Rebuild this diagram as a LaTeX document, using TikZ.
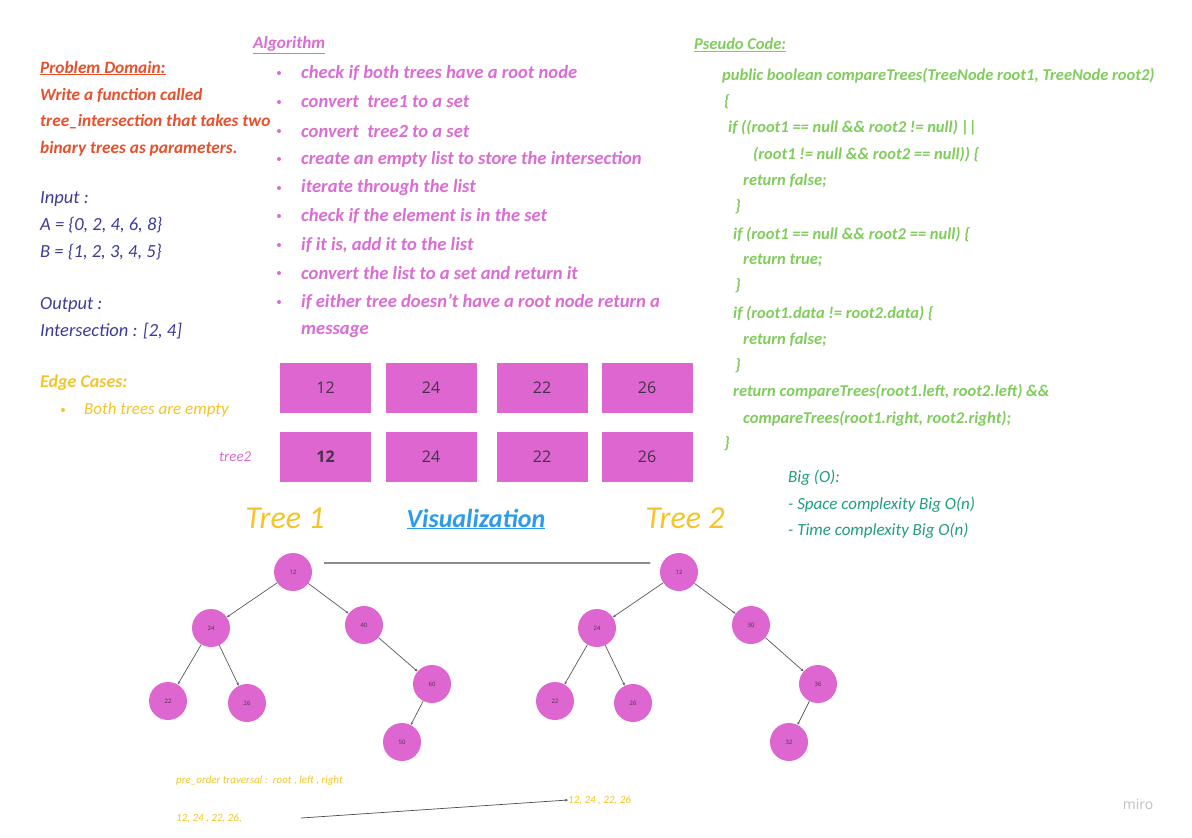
\documentclass[tikz,border=0pt]{standalone}
\usepackage{fontspec}
\setmainfont{Carlito}
\newfontfamily\boxfont{Open Sans}
\usetikzlibrary{arrows.meta}
\definecolor{cred}{RGB}{233,79,43}
\definecolor{cnavy}{RGB}{60,60,155}
\definecolor{cyel}{RGB}{245,196,40}
\definecolor{cmag}{RGB}{218,108,212}
\definecolor{cgreen}{RGB}{128,204,92}
\definecolor{cblue}{RGB}{45,155,235}
\definecolor{cteal}{RGB}{30,158,130}
\definecolor{cfill}{RGB}{221,102,208}
\definecolor{cnum}{RGB}{70,50,70}
\begin{document}
\begin{tikzpicture}[x=1pt,y=-1pt,
  hw/.style={font=\itshape\fontsize{17}{20}\selectfont, anchor=west, inner sep=0pt},
  hwn/.style={font=\itshape\fontsize{18.5}{20}\selectfont, anchor=west, inner sep=0pt, text=cnavy},
  hwr/.style={font=\bfseries\itshape\fontsize{17.3}{20}\selectfont, anchor=west, inner sep=0pt, text=cred},
  hwm/.style={font=\bfseries\itshape\fontsize{18.6}{20}\selectfont, anchor=west, inner sep=0pt, text=cmag},
  hwg/.style={font=\bfseries\itshape\fontsize{16.5}{20}\selectfont, anchor=west, inner sep=0pt, text=cgreen},
  hwb/.style={font=\bfseries\itshape\fontsize{18}{20}\selectfont, anchor=west, inner sep=0pt},
  small/.style={font=\itshape\fontsize{11}{12}\selectfont, anchor=west, inner sep=0pt, text=cyel},
  big/.style={font=\itshape\fontsize{32}{38}\selectfont, inner sep=0pt, text=cyel},
  bx/.style={fill=cfill, minimum width=91pt, minimum height=50pt, inner sep=0pt, text=cnum, font=\boxfont\fontsize{16}{18}\selectfont},
  tn/.style={circle, fill=cfill, minimum size=38pt, inner sep=0pt, text=cnum, font=\boxfont\fontsize{6}{7}\selectfont},
  edge/.style={draw=black!65, line width=0.7pt, -{Stealth[length=3pt,width=2.5pt]}},
  bul/.style={circle, fill=#1, minimum size=4pt, inner sep=0pt}
]
\useasboundingbox (0,0) rectangle (1192,838);
\fill[white] (0,0) rectangle (1192,838);

% Problem domain
\node[hwr] (pdh) at (40,68) {\underline{Problem Domain:}};
\node[hwr] (pd1) at (40,95) {Write a function called};
\node[hwr] (pd2) at (40,122) {tree\_intersection that takes two};
\node[hwr] (pd3) at (40,149) {binary trees as parameters.};
\node[hwn] (in0) at (40,199) {Input :};
\node[hwn] (in1) at (40,225) {A = \{0, 2, 4, 6, 8\}};
\node[hwn] (in2) at (40,252) {B = \{1, 2, 3, 4, 5\}};
\node[hwn] (out0) at (40,305) {Output :};
\node[hwn] (out1) at (40,331) {Intersection : [2, 4]};
\node[hwb, text=cyel] (ec0) at (40,383) {Edge Cases:};
\node[bul=cyel] (ecb) at (63,410) {};
\node[hw, text=cyel] (ec1) at (84,410) {Both trees are empty};

% Algorithm
\node[hwm, font=\bfseries\itshape\fontsize{17.2}{20}\selectfont] (alg) at (253,45) {\underline{Algorithm}};
\foreach \i/\y/\t in {1/73/{check if both trees have a root node},
  2/102/{convert\ \ tree1 to a set},
  3/131/{convert\ \ tree2 to a set},
  4/159/{create an empty list to store the intersection},
  5/188/{iterate through the list},
  6/216/{check if the element is in the set},
  7/245/{if it is, add it to the list},
  8/273/{convert the list to a set and return it},
  9/302/{if either tree doesn't have a root node return a}}{
  \node[bul=cmag] (ab\i) at (279,\y) {};
  \node[hwm] (a\i) at (301,\y) {\t};
}
\node[hwm] (a10) at (301,331) {message};

% Pseudo code
\node[hwg] (psh) at (694,45) {\underline{Pseudo Code:}};
\node[hwg] (p1) at (722,76) {public boolean compareTrees(TreeNode root1, TreeNode root2)};
\node[hwg] (p2) at (724,102) {\{};
\node[hwg] (p3) at (728,128) {if ((root1 == null \&\& root2 != null) ||};
\node[hwg] (p4) at (753,155) {(root1 != null \&\& root2 == null)) \{};
\node[hwg] (p5) at (743,181) {return false;};
\node[hwg] (p6) at (735,207) {\}};
\node[hwg] (p7) at (733,235) {if (root1 == null \&\& root2 == null) \{};
\node[hwg] (p8) at (743,260) {return true;};
\node[hwg] (p9) at (735,286) {\}};
\node[hwg] (p10) at (733,314) {if (root1.data != root2.data) \{};
\node[hwg] (p11) at (743,340) {return false;};
\node[hwg] (p12) at (735,366) {\}};
\node[hwg] (p13) at (733,392) {return compareTrees(root1.left, root2.left) \&\&};
\node[hwg] (p14) at (743,419) {compareTrees(root1.right, root2.right);};
\node[hwg] (p15) at (724,444) {\}};

% Boxes
\node[bx] (r1a) at (325.5,388) {12};
\node[bx] (r1b) at (431,388) {24};
\node[bx] (r1c) at (542,388) {22};
\node[bx] (r1d) at (647,388) {26};
\node[bx] (r2a) at (325.5,457) {\bfseries 12};
\node[bx] (r2b) at (431,457) {24};
\node[bx] (r2c) at (542,457) {22};
\node[bx] (r2d) at (647,457) {26};
\node[hw, text=cmag, font=\itshape\fontsize{15}{16}\selectfont] (t2lab) at (219,457) {tree2};

% Titles
\node[big] (tr1) at (285,518) {Tree 1};
\node[big] (tr2) at (685,518) {Tree 2};
\node[font=\bfseries\itshape\fontsize{26}{30}\selectfont, text=cblue, inner sep=0pt] (vis) at (476,519) {\underline{Visualization}};

% Big O
\node[hw, text=cteal] (bo0) at (788,478) {Big (O):};
\node[hw, text=cteal] (bo1) at (788,505) {- Space complexity Big O(n)};
\node[hw, text=cteal] (bo2) at (788,531) {- Time complexity Big O(n)};

% Tree 1
\node[tn] (t1a) at (293,572) {12};
\node[tn] (t1b) at (211,628) {24};
\node[tn] (t1c) at (364,625) {40};
\node[tn] (t1d) at (168,701) {22};
\node[tn] (t1e) at (247,703) {26};
\node[tn] (t1f) at (432,684) {60};
\node[tn] (t1g) at (402,742) {50};
\draw[edge] (t1a) -- (t1b);
\draw[edge] (t1a) -- (t1c);
\draw[edge] (t1b) -- (t1d);
\draw[edge] (t1b) -- (t1e);
\draw[edge] (t1c) -- (t1f);
\draw[edge] (t1f) -- (t1g);

% Tree 2
\node[tn] (t2a) at (679,572) {12};
\node[tn] (t2b) at (597,628) {24};
\node[tn] (t2c) at (751,625) {30};
\node[tn] (t2d) at (555,701) {22};
\node[tn] (t2e) at (633,703) {26};
\node[tn] (t2f) at (818,684) {36};
\node[tn] (t2g) at (789,742) {32};
\draw[edge] (t2a) -- (t2b);
\draw[edge] (t2a) -- (t2c);
\draw[edge] (t2b) -- (t2d);
\draw[edge] (t2b) -- (t2e);
\draw[edge] (t2c) -- (t2f);
\draw[edge] (t2f) -- (t2g);

\draw[draw=black!45, line width=1.2pt, -{Stealth[length=2pt,width=2pt]}]
  ([xshift=12pt,yshift=9pt]t1a.east) -- ([xshift=-9pt,yshift=9pt]t2a.west);

% pre-order
\node[small] (po0) at (176,781) {pre\_order traversal :\ \ root , left , right};
\node[small] (po1) at (176,818) {12, 24 , 22, 26,};
\node[small] (po2) at (568,800) {12, 24 , 22, 26};
\coordinate (pos) at (301,818);
\draw[edge, draw=black!70] (pos) -- (po2.west);

\node[font=\boxfont\fontsize{14}{16}\selectfont, text=black!25, inner sep=0pt] (miro) at (1138,804) {miro};
\end{tikzpicture}
\end{document}
